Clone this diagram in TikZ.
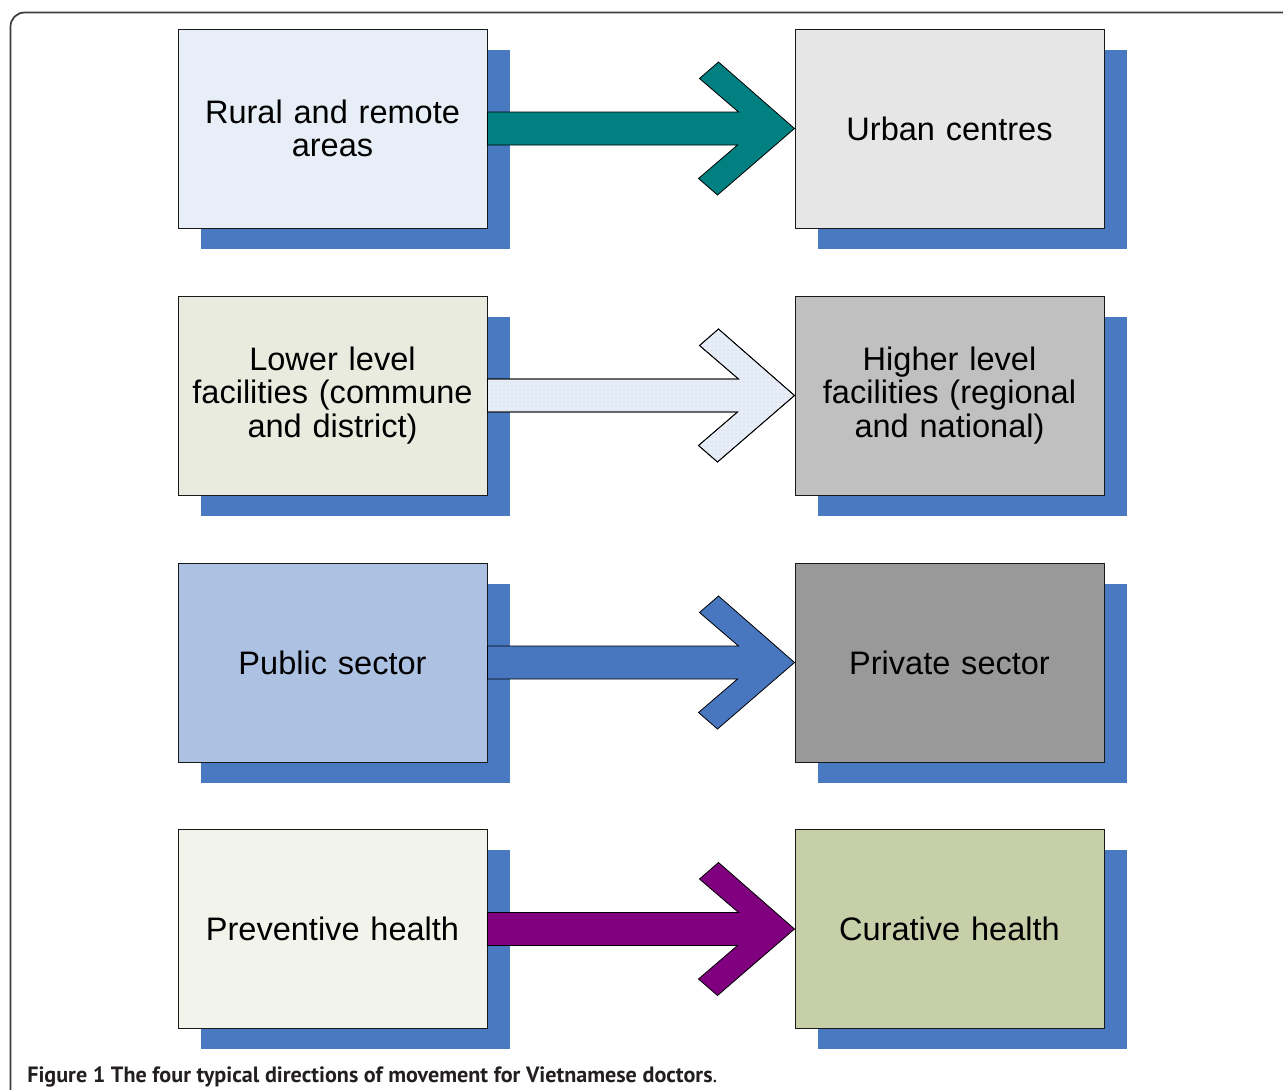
\documentclass[tikz,border=0pt]{standalone}
\usepackage{fontspec}
\setmainfont{Liberation Sans}
\newfontfamily\capfont{PT Sans}
\usetikzlibrary{calc,shadows,patterns}
\definecolor{shadowblue}{RGB}{73,121,193}
\definecolor{frameline}{RGB}{60,60,60}
\definecolor{lA}{RGB}{231,238,248}
\definecolor{rA}{RGB}{230,230,230}
\definecolor{lB}{RGB}{234,235,223}
\definecolor{rB}{RGB}{192,192,192}
\definecolor{lC}{RGB}{173,194,227}
\definecolor{rC}{RGB}{153,153,153}
\definecolor{lD}{RGB}{242,243,234}
\definecolor{rD}{RGB}{199,207,169}
\definecolor{arrTeal}{RGB}{0,128,128}
\definecolor{arrLight}{RGB}{232,238,248}
\definecolor{arrDot}{RGB}{190,205,232}
\definecolor{arrBlue}{RGB}{72,119,191}
\definecolor{arrPurple}{RGB}{128,0,128}
\definecolor{captext}{RGB}{35,31,32}
\tikzset{
  boxnode/.style={draw=black!90, line width=0.75pt, minimum width=309*0.75pt, minimum height=199*0.75pt,
    inner sep=0pt, align=center, text width=300*0.75pt,
    font=\fontsize{24.4pt}{25.1pt}\selectfont,
    drop shadow={shadow xshift=17.6pt, shadow yshift=-15.4pt, fill=shadowblue, opacity=1}},
  arrowbody/.style={draw=black, line width=0.6pt, line join=miter},
}
\newcommand{\bigarrow}[3]{%
  \path[arrowbody,#3] ($(#1.east)+(0,-16.5)$) -- ++(251,0) -- ++(-39,-33.5) -- ++(19,-16.5)
    -- (#2.west) -- ++(-77,66.5) -- ++(-19,-16.5) -- ++(39,-33.5) -- ($(#1.east)+(0,16.5)$) -- cycle;}
\begin{document}
\begin{tikzpicture}[x=0.75pt,y=-0.75pt]
\useasboundingbox (0,0) rectangle (1283,1090);
\clip (0,0) rectangle (1283,1090);
\draw[frameline, line width=1.3pt, rounded corners=10.5pt] (10.5,12.5) rectangle (1320,1130);

\node[boxnode, fill=lA] (L1) at (332.5,128.5) {Rural and remote\\areas};
\node[boxnode, fill=rA] (R1) at (949.5,128.5) {Urban centres};
\node[boxnode, fill=lB] (L2) at (332.5,395.5) {Lower level\\facilities (commune\\and district)};
\node[boxnode, fill=rB] (R2) at (949.5,395.5) {Higher level\\facilities (regional\\and national)};
\node[boxnode, fill=lC] (L3) at (332.5,662.5) {Public sector};
\node[boxnode, fill=rC] (R3) at (949.5,662.5) {Private sector};
\node[boxnode, fill=lD] (L4) at (332.5,929) {Preventive health};
\node[boxnode, fill=rD] (R4) at (949.5,929) {Curative health};

\bigarrow{L1}{R1}{fill=arrTeal}
\bigarrow{L2}{R2}{fill=arrLight}
\bigarrow{L2}{R2}{pattern=dots, pattern color=arrDot, draw=none}
\bigarrow{L2}{R2}{draw=black}
\bigarrow{L3}{R3}{fill=arrBlue}
\bigarrow{L4}{R4}{fill=arrPurple}

\node[anchor=base west, inner sep=0pt, text=captext, font=\capfont\fontsize{16.6pt}{19pt}\selectfont] (cap) at (27,1082)
  {\textbf{Figure 1 The four typical directions of movement for Vietnamese doctors}.};
\end{tikzpicture}
\end{document}
